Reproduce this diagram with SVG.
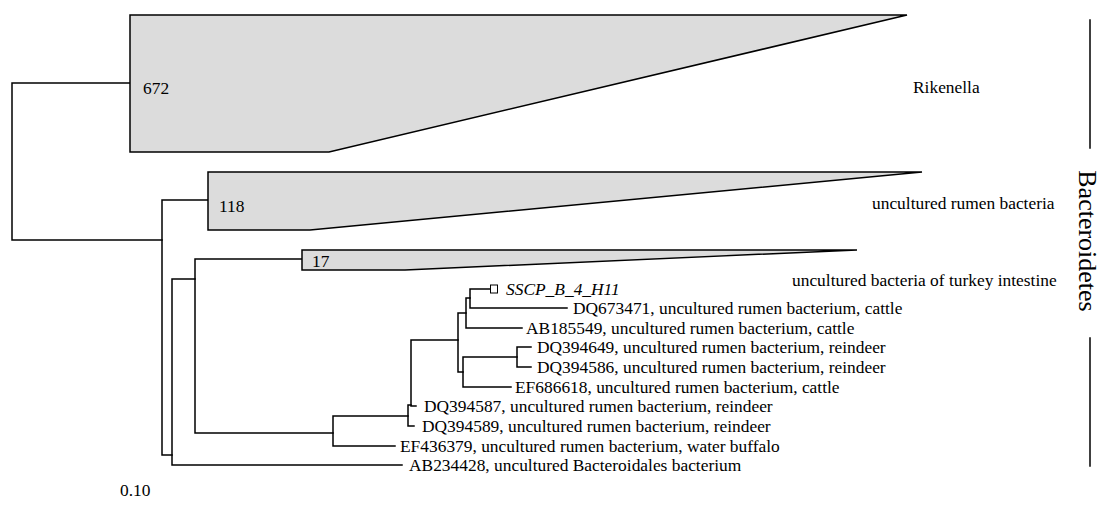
<svg xmlns="http://www.w3.org/2000/svg" width="1104" height="520" viewBox="0 0 1104 520">
<style>
.br{fill:none;stroke:#000;stroke-width:1.5;stroke-linecap:square}
.tri{fill:#dcdcdc;stroke:#000;stroke-width:1.5;stroke-linejoin:miter}
text{font-family:"Liberation Serif","Times New Roman",serif;font-size:17.4px;fill:#000}
.it{font-style:italic}
.big{font-size:26px}
</style>
<rect width="1104" height="520" fill="#fff"/>
<g id="connectors">
<path class="br" d="M130,83 H12 V240 H162"/>
<path class="br" d="M208,200 H162 V455 H172"/>
<path class="br" d="M195,279 H172 V465 H402"/>
<path class="br" d="M302,259 H195 V433 H333"/>
<path class="br" d="M408,416 H333 V446 H395"/>
<path class="br" d="M411,405 H408 V426 H414"/>
<path class="br" d="M458,340 H411 V406 H416"/>
<path class="br" d="M466,313 H458 V372 H463"/>
<path class="br" d="M470,298 H466 V328 H522"/>
<path class="br" d="M490,289 H470 V308 H567"/>
<path class="br" d="M517,357 H463 V387 H511"/>
<path class="br" d="M531,347 H517 V367 H531"/>
</g>
<g id="rikenella">
<polygon class="tri" points="130,15 907,15 329,152 130,152"/>
<text x="143" y="94">672</text>
<text x="913" y="93">Rikenella</text>
</g>
<g id="rumen">
<polygon class="tri" points="208,172 922,172 310,230 208,230"/>
<text x="219" y="212">118</text>
<text x="872" y="209">uncultured rumen bacteria</text>
</g>
<g id="turkey">
<polygon class="tri" points="302,250 857,250 405,270 302,270"/>
<text x="312" y="267">17</text>
<text x="792" y="286">uncultured bacteria of turkey intestine</text>
</g>
<g id="sscp">
<rect x="490.5" y="285" width="7" height="8" fill="#fff" stroke="#000" stroke-width="1"/>
<text class="it" x="506" y="295">SSCP_B_4_H11</text>
</g>
<g id="dq673471"><text x="573" y="314">DQ673471, uncultured rumen bacterium, cattle</text></g>
<g id="ab185549"><text x="526" y="334">AB185549, uncultured rumen bacterium, cattle</text></g>
<g id="dq394649"><text x="537" y="353">DQ394649, uncultured rumen bacterium, reindeer</text></g>
<g id="dq394586"><text x="537" y="373">DQ394586, uncultured rumen bacterium, reindeer</text></g>
<g id="ef686618"><text x="515" y="393">EF686618, uncultured rumen bacterium, cattle</text></g>
<g id="dq394587"><text x="424" y="412">DQ394587, uncultured rumen bacterium, reindeer</text></g>
<g id="dq394589"><text x="422" y="432">DQ394589, uncultured rumen bacterium, reindeer</text></g>
<g id="ef436379"><text x="400" y="452">EF436379, uncultured rumen bacterium, water buffalo</text></g>
<g id="ab234428"><text x="409" y="471">AB234428, uncultured Bacteroidales bacterium</text></g>
<g id="bacteroidetes">
<line class="br" x1="1090" y1="20" x2="1090" y2="148"/>
<line class="br" x1="1090" y1="338" x2="1090" y2="466"/>
<text class="big" transform="translate(1079,241) rotate(90)" text-anchor="middle">Bacteroidetes</text>
</g>
<g id="scale"><text x="120" y="496">0.10</text></g>
</svg>
